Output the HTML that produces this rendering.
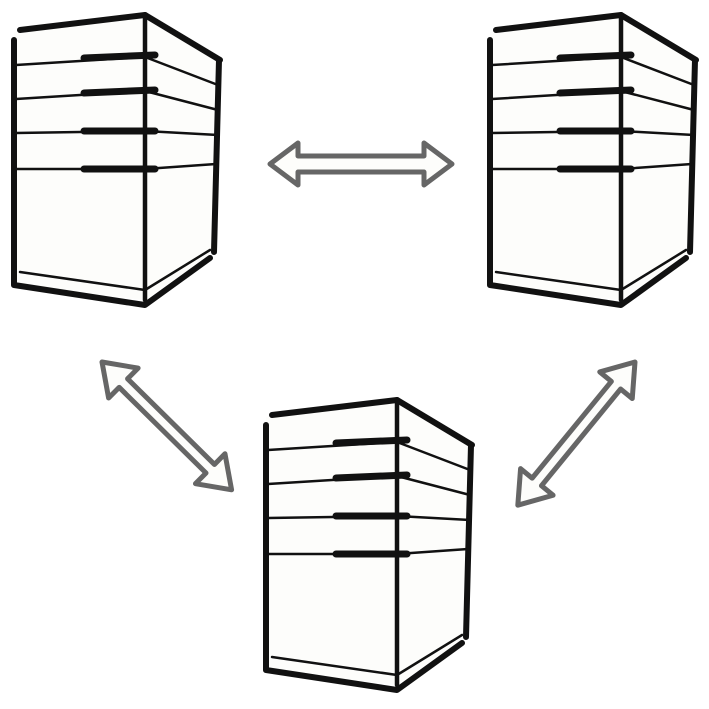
<!DOCTYPE html>
<html><head><meta charset="utf-8"><style>html,body{margin:0;padding:0;background:#fff}svg{display:block}</style></head>
<body>
<svg width="709" height="709" viewBox="0 0 709 709" xmlns="http://www.w3.org/2000/svg">
<defs>
<g id="srv" fill="none" stroke="#111" stroke-linecap="round" stroke-linejoin="round">
  <path d="M14,32 L145,15 L220,60 L216,250 L145,300 L14,285 Z" fill="#fdfdfb" stroke="none"/>
  <path d="M20,30 L145,15" stroke-width="6"/>
  <path d="M145,15 L220,60" stroke-width="6"/>
  <path d="M14,40 L14,285 L145,305 L210,258" stroke-width="6"/>
  <path d="M219,60 L214,252" stroke-width="6"/>
  <path d="M145,15 L145,300" stroke-width="4.5"/>
  <path d="M20,272 L145,290 L210,250" stroke-width="2.5"/>
  <path d="M16,65 L145,57 L218,85" stroke-width="2.5"/>
  <path d="M16,99 L145,91 L218,110" stroke-width="2.5"/>
  <path d="M16,133 L145,131 L218,135" stroke-width="2.5"/>
  <path d="M16,169 L145,169 L216,164" stroke-width="2.5"/>
  <path d="M84,58 L155,55" stroke-width="7"/>
  <path d="M84,93 L155,90" stroke-width="7"/>
  <path d="M84,131 L155,131" stroke-width="7"/>
  <path d="M84,169 L155,169" stroke-width="7"/>
</g>
</defs>
<use href="#srv"/>
<use href="#srv" transform="translate(476,0)"/>
<use href="#srv" transform="translate(252,385)"/>
<g fill="#fdfdfb" stroke="#666" stroke-width="5" stroke-linejoin="round">
  <polygon transform="translate(270,164)" points="0,0 28,-21 28,-8 154,-8 154,-21 182,0 154,21 154,8 28,8 28,21"/>
  <polygon transform="translate(102,362) rotate(44.6)" points="0,0 30,-21 30,-6 152,-6 152,-21 182,0 152,21 152,6 30,6 30,21"/>
  <polygon transform="translate(635,362) rotate(129.3)" points="0,0 30,-21 30,-6 155,-6 155,-21 185,0 155,21 155,6 30,6 30,21"/>
</g>
</svg>
</body></html>
